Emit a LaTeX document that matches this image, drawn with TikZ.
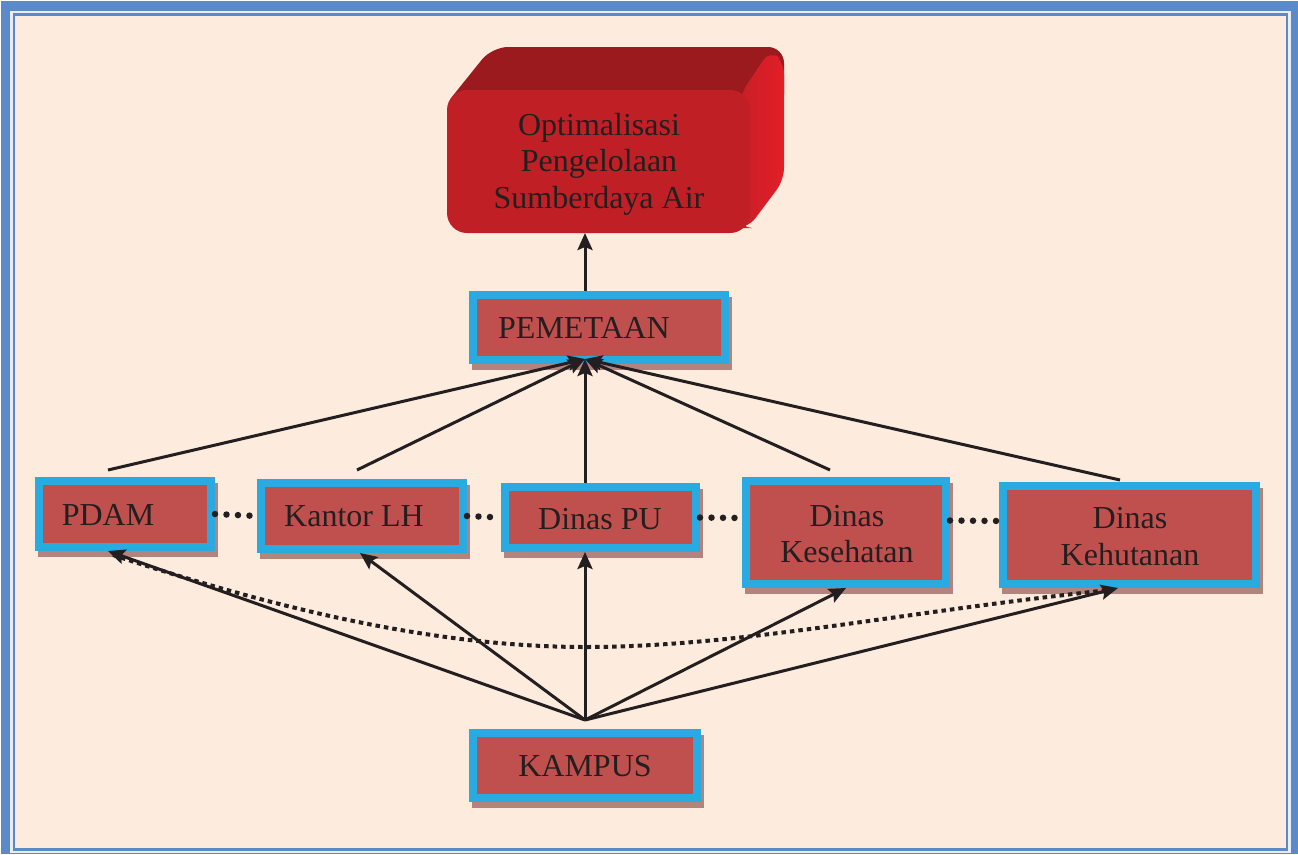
\documentclass[tikz,border=0pt]{standalone}
\usepackage{fontspec}
\setmainfont{Liberation Serif}
\usetikzlibrary{arrows.meta,calc}
\definecolor{frameblue}{HTML}{5A8AC8}
\definecolor{framelight}{HTML}{E9ECF2}
\definecolor{peach}{HTML}{FDEBDD}
\definecolor{boxred}{HTML}{C0504D}
\definecolor{boxcyan}{HTML}{29ABE2}
\definecolor{boxshadow}{HTML}{B3837D}
\definecolor{ink}{HTML}{231F20}
\definecolor{goalfront}{HTML}{C01F26}
\definecolor{goaltop}{HTML}{9B1A1E}
\definecolor{goalsideA}{HTML}{C81F27}
\definecolor{goalsideB}{HTML}{E31E26}
\pgfdeclarelayer{bglayer}
\pgfdeclarelayer{shadowlayer}
\pgfsetlayers{bglayer,shadowlayer,main}
\begin{document}
\begin{tikzpicture}[x=1pt,y=-1pt,
  box/.style={draw=boxcyan, line width=8pt, fill=boxred, rectangle, inner sep=0pt, outer sep=4pt},
  goalbox/.style={rectangle, rounded corners=20pt, fill=goalfront, minimum width=303pt, minimum height=143pt, inner sep=0pt, outer sep=0pt},
  txt/.style={text=ink, font=\fontsize{32}{36.5}\selectfont, inner sep=0pt, align=center},
  arr/.style={draw=ink, line width=3pt, -{Stealth[length=17pt,width=15pt,inset=3pt]}},
  link/.style={draw=ink, line width=6.5pt, line cap=round, dash pattern=on 0pt off 11.5pt},
  curvelink/.style={draw=ink, line width=4pt, dash pattern=on 4.5pt off 4pt}
]
\useasboundingbox (0,0) rectangle (1298,854);
\begin{pgfonlayer}{bglayer}
\fill[white] (0,0) rectangle (1298,854);
\fill[frameblue] (1,1) rectangle (1298,854);
\fill[framelight] (10,11) rectangle (1290.7,852.7);
\fill[frameblue] (12.5,13) rectangle (1288.3,850.7);
\fill[peach] (14.5,15.5) rectangle (1286,848.3);
\end{pgfonlayer}

% 3D goal box faces
\fill[goaltop, rounded corners=16pt] (443,108) -- (492,47) -- (784,47) -- (784,110) -- (750,140) -- cycle;
\shade[left color=goalsideA, right color=goalsideB, rounded corners=12pt] (740,95) -- (770,50) -- (784,62) -- (784,180) -- (748,228) -- (740,228) -- cycle;
\node[goalbox] (goal) at (598.5,161.5) {};
\node[txt] (goalT) at (599,164) {Optimalisasi\\Pengelolaan\\Sumberdaya Air};

% boxes
\node[box, minimum width=252pt, minimum height=65pt] (pem) at (599,327.5) {};
\node[box, minimum width=172pt, minimum height=66pt] (pdam) at (125,514) {};
\node[box, minimum width=202pt, minimum height=66pt] (klh) at (362,516) {};
\node[box, minimum width=191pt, minimum height=61pt] (pu) at (600.5,517.5) {};
\node[box, minimum width=200pt, minimum height=103pt] (kes) at (846,532.5) {};
\node[box, minimum width=253pt, minimum height=98pt] (keh) at (1129.5,535) {};
\node[box, minimum width=224pt, minimum height=65pt] (kamp) at (585,765.5) {};

\begin{pgfonlayer}{shadowlayer}
\foreach \n in {pem,pdam,klh,pu,kes,keh,kamp}
  \fill[boxshadow] ([shift={(3,6)}]\n.south west) rectangle ([shift={(3,6)}]\n.north east);
\end{pgfonlayer}

% texts
\node[txt, anchor=base] (pemT) at (584,338) {PEMETAAN};
\node[txt, anchor=base] (pdamT) at (108,525) {PDAM};
\node[txt, anchor=base] (klhT) at (354,526) {Kantor LH};
\node[txt, anchor=base] (puT) at (600,529) {Dinas PU};
\node[txt] (kesT) at (847,534) {Dinas\\Kesehatan};
\node[txt] (kehT) at (1130,536.5) {Dinas\\Kehutanan};
\node[txt, anchor=base] (kampT) at (585,776) {KAMPUS};

% dotted links between boxes
\draw[link] (pdam.east) -- (klh.west);
\draw[link] (klh.east) -- (pu.west);
\draw[link] (pu.east) -- ($(kes.west)+(0,-14.5)$);
\draw[link] ($(kes.east)+(0,-12)$) -- ($(keh.west)+(0,-14)$);

% dotted curve
\draw[curvelink] ($(pdam.south)+(-12,4)$) .. controls (250,600) and (420,647) .. (585,647)
  .. controls (740,647) and (900,612) .. ($(keh.south)+(-20,2)$);

% arrows
\draw[arr] (pem.north -| kamp.center) -- (goal.south -| kamp.center);
\coordinate (pemin) at ($(pem.south -| kamp.center)+(0,-5)$);
\draw[arr] ($(pdam.north)+(-17,-7)$) -- (pemin);
\draw[arr] ($(klh.north)+(-5,-9)$) -- (pemin);
\draw[arr] (pu.north -| kamp.center) -- (pemin);
\draw[arr] ($(kes.north)+(-16,-7)$) -- (pemin);
\draw[arr] ($(keh.north)+(-9.5,-2)$) -- (pemin);

\coordinate (apex) at ($(kamp.north)+(0,-9)$);
\draw[arr] (apex) -- ($(pdam.south)+(-17,0)$);
\draw[arr] (apex) -- ($(klh.south)+(-2,0)$);
\draw[arr] (apex) -- (pu.south -| kamp.center);
\draw[arr] (apex) -- (kes.south);
\draw[arr] (apex) -- ($(keh.south)+(-11.5,0)$);
\end{tikzpicture}
\end{document}
